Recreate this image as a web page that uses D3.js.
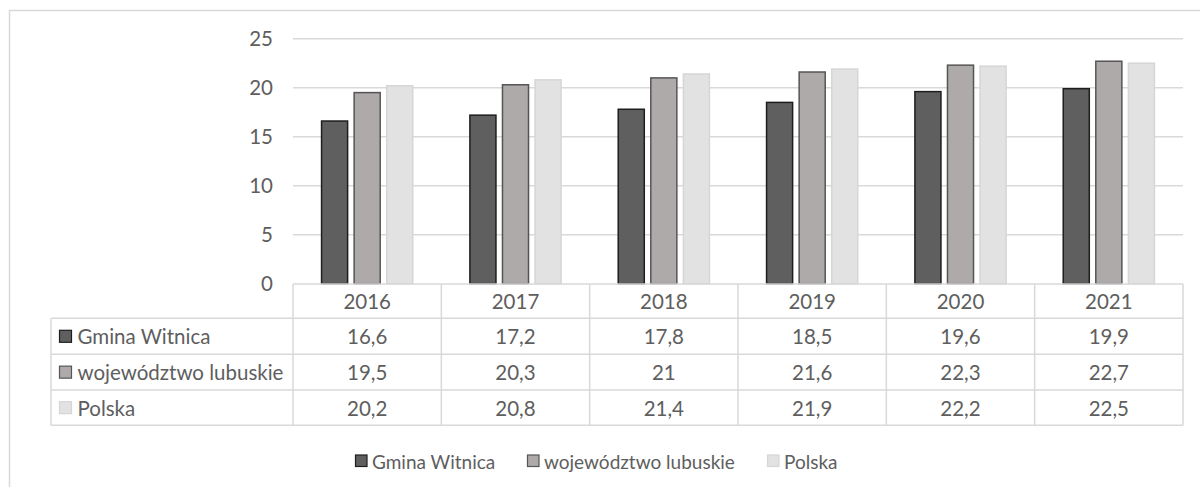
<!DOCTYPE html>
<html>
<head>
<meta charset="utf-8">
<script src="https://cdn.jsdelivr.net/npm/d3@7"></script>
<style>
html,body{margin:0;padding:0;background:#fff;}
svg{display:block;}
text{font-family:Lato,"Open Sans",sans-serif;fill:#5e5e5e;}
</style>
</head>
<body>
<svg id="chart" width="1200" height="487"></svg>
<script>
const years = ["2016","2017","2018","2019","2020","2021"];
const seriesNames = ["Gmina Witnica","województwo lubuskie","Polska"];
const gminaWitnica = [16.6,17.2,17.8,18.5,19.6,19.9];
const lubuskie = [19.5,20.3,21,21.6,22.3,22.7];
const polska = [20.2,20.8,21.4,21.9,22.2,22.5];
const yTicks = [0,5,10,15,20,25];

const seriesValues = [gminaWitnica, lubuskie, polska];
const fills = ["#5f5f5f","#aeaaaa","#e2e2e2"];
const strokes = ["#1e1e1e","#555","#d6d6d6"];

const svg = d3.select("#chart");
svg.append("rect").attr("x",9.5).attr("y",10.5).attr("width",1300).attr("height",600)
  .attr("fill","none").attr("stroke","#d9d9d9").attr("stroke-width",1.5);

const plotL = 293, plotR = 1183, plotT = 38.7, plotB = 283.7;
const x = d3.scaleBand().domain(years).range([plotL,plotR]).padding(0);
const y = d3.scaleLinear().domain([0,25]).range([plotB,plotT]);

svg.append("g").selectAll("line").data(yTicks.filter(d=>d>0)).join("line")
  .attr("x1",plotL).attr("x2",plotR).attr("y1",d=>y(d)).attr("y2",d=>y(d))
  .attr("stroke","#d9d9d9").attr("stroke-width",1.5);

const yAxis = d3.axisLeft(y).tickValues(yTicks).tickSize(0).tickPadding(0);
const gy = svg.append("g").attr("transform",`translate(${plotL-20},0)`).call(yAxis);
gy.select(".domain").remove();
gy.selectAll("text").style("font-size","20.5px").attr("fill","#5e5e5e").style("font-family","Lato,'Open Sans',sans-serif");

const x1 = d3.scaleBand().domain(d3.range(3)).range([0,x.bandwidth()]).paddingInner(0.2).paddingOuter(0.877);
seriesValues.forEach((vals,si)=>{
  svg.append("g").selectAll("rect").data(vals.map((v,i)=>({v,yr:years[i]}))).join("rect")
    .attr("x",d=>x(d.yr)+x1(si))
    .attr("width",x1.bandwidth())
    .attr("y",d=>y(d.v))
    .attr("height",d=>plotB-y(d.v))
    .attr("fill",fills[si]).attr("stroke",strokes[si]).attr("stroke-width",1.5);
});

const rowTops = [284,318.3,354.3,390,425.3];
const tableLeft = 51;
const g = svg.append("g");
const lineColor = "#d9d9d9";
g.append("line").attr("x1",plotL).attr("x2",plotR).attr("y1",rowTops[0]).attr("y2",rowTops[0]).attr("stroke",lineColor).attr("stroke-width",1.5);
for(let r=1;r<rowTops.length;r++){
  g.append("line").attr("x1",tableLeft).attr("x2",plotR).attr("y1",rowTops[r]).attr("y2",rowTops[r]).attr("stroke",lineColor).attr("stroke-width",1.5);
}
years.forEach(yr=>{
  g.append("line").attr("x1",x(yr)).attr("x2",x(yr)).attr("y1",rowTops[0]).attr("y2",rowTops[4]).attr("stroke",lineColor).attr("stroke-width",1.5);
});
g.append("line").attr("x1",plotR).attr("x2",plotR).attr("y1",rowTops[0]).attr("y2",rowTops[4]).attr("stroke",lineColor).attr("stroke-width",1.5);
g.append("line").attr("x1",tableLeft).attr("x2",tableLeft).attr("y1",rowTops[1]).attr("y2",rowTops[4]).attr("stroke",lineColor).attr("stroke-width",1.5);

const fs = "20.5px";
g.selectAll("text.yr").data(years).join("text").attr("class","yr")
  .attr("x",d=>x(d)+x.bandwidth()/2).attr("y",(rowTops[0]+rowTops[1])/2)
  .attr("text-anchor","middle").attr("dominant-baseline","central").style("font-size",fs).text(d=>d);

const fmt = v => String(v).replace(".",",");
seriesValues.forEach((vals,si)=>{
  const cy = (rowTops[si+1]+rowTops[si+2])/2;
  g.append("rect").attr("x",59.5).attr("y",cy-6).attr("width",12).attr("height",12)
    .attr("fill",fills[si]).attr("stroke",strokes[si]).attr("stroke-width",1.2);
  g.append("text").attr("x",77.5).attr("y",cy).attr("dominant-baseline","central").style("font-size",fs).text(seriesNames[si]);
  g.selectAll(null).data(vals.map((v,i)=>({v,yr:years[i]}))).join("text")
    .attr("x",d=>x(d.yr)+x.bandwidth()/2).attr("y",cy)
    .attr("text-anchor","middle").attr("dominant-baseline","central").style("font-size",fs).text(d=>fmt(d.v));
});

const legendX = [355,527,767];
const ly = 461;
seriesNames.forEach((n,si)=>{
  svg.append("rect").attr("x",legendX[si]+0.5).attr("y",ly-6).attr("width",11.5).attr("height",11.5)
    .attr("fill",fills[si]).attr("stroke",strokes[si]).attr("stroke-width",1.2);
  svg.append("text").attr("x",legendX[si]+17).attr("y",ly).attr("dominant-baseline","central").style("font-size","19px").text(n);
});
</script>
</body>
</html>
